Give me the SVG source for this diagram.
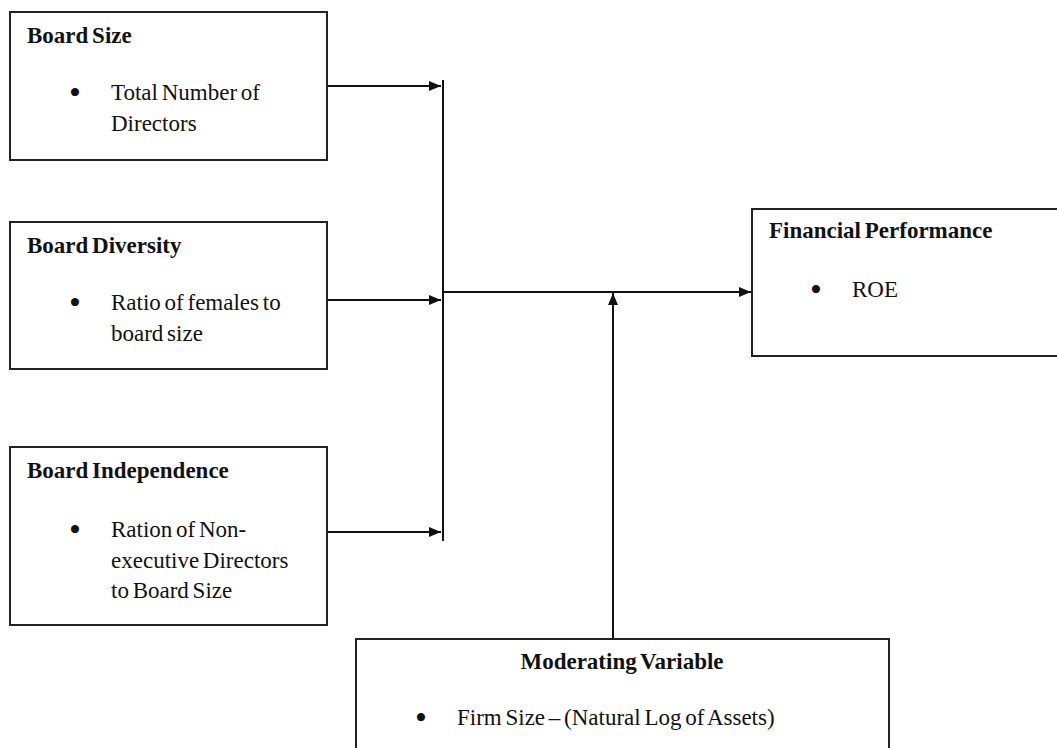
<svg xmlns="http://www.w3.org/2000/svg" width="1057" height="748" viewBox="0 0 1057 748">
<defs>
<style>
.box{fill:#fff;stroke:#222;stroke-width:2}
.t{font-family:"Liberation Serif","Times New Roman",serif;font-size:23px;fill:#111;word-spacing:-2px}
.b{font-weight:bold}
.bu{font-family:"Liberation Serif","Times New Roman",serif;font-size:34px;fill:#111}
.ln{fill:none;stroke:#111;stroke-width:2}
</style>
<marker id="ah" markerWidth="12" markerHeight="10" refX="12" refY="5" orient="auto" markerUnits="userSpaceOnUse">
<path d="M0,0 L12,5 L0,10 Z" fill="#111"/>
</marker>
</defs>
<rect width="1057" height="748" fill="#fff"/>
<g id="connectors">
<line class="ln" x1="327" y1="86" x2="441" y2="86" marker-end="url(#ah)"/>
<line class="ln" x1="327" y1="300" x2="441" y2="300" marker-end="url(#ah)"/>
<line class="ln" x1="327" y1="532" x2="441" y2="532" marker-end="url(#ah)"/>
<line class="ln" x1="443" y1="80" x2="443" y2="541"/>
<line class="ln" x1="443" y1="292" x2="751" y2="292" marker-end="url(#ah)"/>
<line class="ln" x1="613" y1="639" x2="613" y2="293" marker-end="url(#ah)"/>
</g>
<g id="board-size">
<rect class="box" x="10" y="12" width="317" height="148"/>
<text class="t b" x="27" y="43">Board Size</text>
<text class="bu" x="69" y="104">•</text>
<text class="t" x="111" y="100">Total Number of</text>
<text class="t" x="111" y="131">Directors</text>
</g>
<g id="board-diversity">
<rect class="box" x="10" y="222" width="317" height="147"/>
<text class="t b" x="27" y="253">Board Diversity</text>
<text class="bu" x="69" y="314">•</text>
<text class="t" x="111" y="310">Ratio of females to</text>
<text class="t" x="111" y="341">board size</text>
</g>
<g id="board-independence">
<rect class="box" x="10" y="447" width="317" height="178"/>
<text class="t b" x="27" y="478">Board Independence</text>
<text class="bu" x="69" y="541">•</text>
<text class="t" x="111" y="537">Ration of Non-</text>
<text class="t" x="111" y="568">executive Directors</text>
<text class="t" x="111" y="598">to Board Size</text>
</g>
<g id="financial-performance">
<rect class="box" x="752" y="209" width="320" height="147"/>
<text class="t b" x="769" y="238">Financial Performance</text>
<text class="bu" x="810" y="301">•</text>
<text class="t" x="852" y="297">ROE</text>
</g>
<g id="moderating-variable">
<rect class="box" x="356" y="639" width="533" height="130"/>
<text class="t b" x="622" y="669" text-anchor="middle">Moderating Variable</text>
<text class="bu" x="415" y="729">•</text>
<text class="t" x="457" y="725">Firm Size – (Natural Log of Assets)</text>
</g>
</svg>
